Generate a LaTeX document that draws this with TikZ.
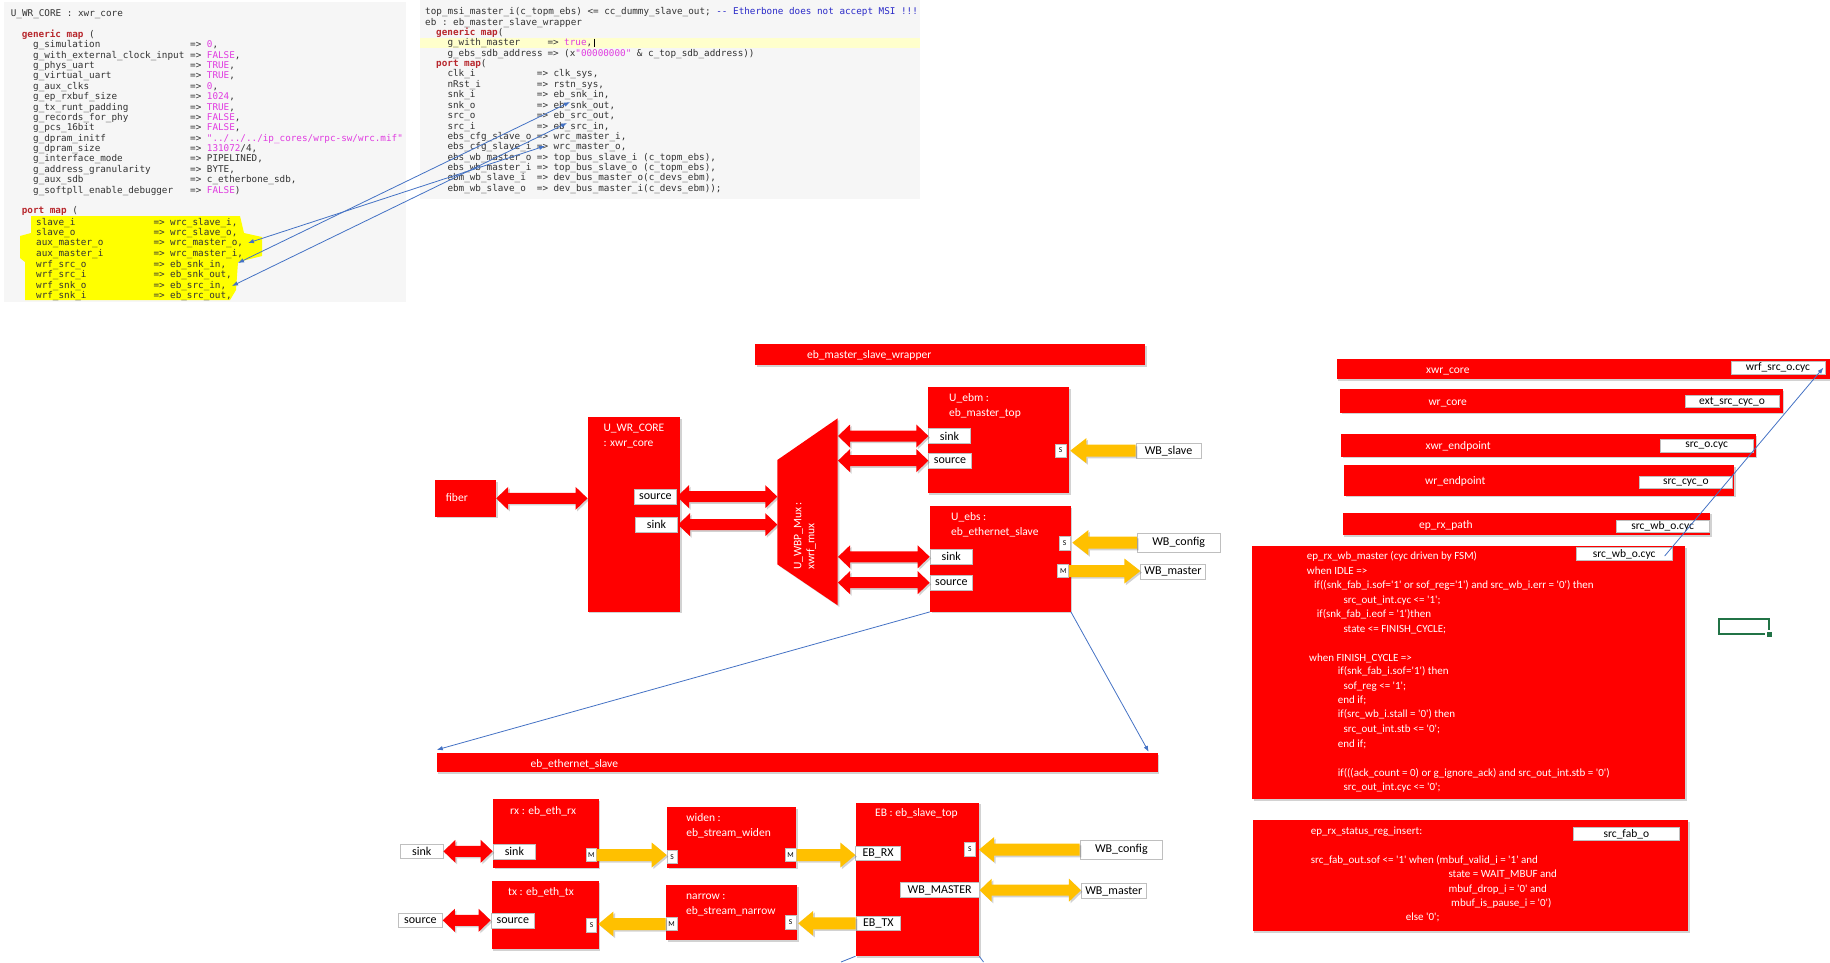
\documentclass[tikz,border=0pt]{standalone}
\usepackage{fontspec}
\setmainfont{Carlito}[Ligatures=TeXOff]
\setmonofont{DejaVu Sans Mono}
\usetikzlibrary{calc,fit,shadows,arrows.meta}

\definecolor{boxred}{HTML}{FF0000}
\definecolor{wbyellow}{HTML}{FFC000}
\definecolor{hlyellow}{HTML}{FFFF00}
\definecolor{lineyellow}{HTML}{FFFFCC}
\definecolor{panelgray}{HTML}{F6F6F6}
\definecolor{kwred}{HTML}{B8282E}
\definecolor{litmag}{HTML}{E03CE0}
\definecolor{cmtblue}{HTML}{2A2AC8}
\definecolor{codeink}{HTML}{333333}
\definecolor{linkblue}{HTML}{4472C4}
\definecolor{portgray}{HTML}{BFBFBF}
\definecolor{xlgreen}{HTML}{217346}

\newcommand\codefnt{\ttfamily\fontsize{9.3}{10}\selectfont}
\newcommand\titlefnt{\fontsize{11.5}{13}\selectfont}
\newcommand\portfnt{\fontsize{12}{14}\selectfont}
\newcommand\tagfnt{\fontsize{11.5}{13}\selectfont}
\newcommand\minifnt{\fontsize{7.5}{8}\selectfont}
\newcommand\listfnt{\fontsize{11}{13}\selectfont}
\newcommand\lit[1]{\textcolor{litmag}{#1}}

% plain box spanning two corners: style, name, corner, corner
\newcommand\bx[4]{\node[#1, fit={(#3) (#4)}] (#2) {};}
% labelled box: style, name, corner, corner, centred text
\newcommand\pbx[5]{%
  \node[#1, fit={(#3) (#4)}] (#2) {};
  \node[#1, draw=none, fill=none] (#2-l) at (#2.center) {#5};}
% one "name => value" line of a VHDL map
\newcommand\mapln[7]{%
  \node[code] (#1n) at (#3,#2) {#4};
  \node[code] (#1a) at (#5,#2) {=>};
  \node[code] (#1v) at (#6,#2) {#7};}
% horizontal block arrow with a head at both ends
\newcommand\dblarr[6]{%
  \fill[#1] let \p1=(#2), \p2=(#3), \n1={sign(\x2-\x1)} in
   (\x1,\y1) -- ({\x1+\n1*#6},{\y1+#5}) -- ({\x1+\n1*#6},{\y1+#4})
   -- ({\x2-\n1*#6},{\y1+#4}) -- ({\x2-\n1*#6},{\y1+#5}) -- (\x2,\y1)
   -- ({\x2-\n1*#6},{\y1-#5}) -- ({\x2-\n1*#6},{\y1-#4})
   -- ({\x1+\n1*#6},{\y1-#4}) -- ({\x1+\n1*#6},{\y1-#5}) -- cycle;}
% horizontal block arrow, tail to tip
\newcommand\onearr[6]{%
  \fill[#1] let \p1=(#2), \p2=(#3), \n1={sign(\x2-\x1)} in
   (\x1,{\y1+#4}) -- ({\x2-\n1*#6},{\y1+#4}) -- ({\x2-\n1*#6},{\y1+#5}) -- (\x2,\y1)
   -- ({\x2-\n1*#6},{\y1-#5}) -- ({\x2-\n1*#6},{\y1-#4}) -- (\x1,{\y1-#4}) -- cycle;}

\tikzset{
  softshadow/.style={drop shadow={shadow xshift=1.6pt, shadow yshift=-1.6pt, opacity=.25, fill=black!70}},
  code/.style={font=\codefnt, text=codeink, anchor=base west, yshift=-3pt, inner sep=0pt},
  kw/.style={code, font=\codefnt\bfseries, text=kwred},
  wtxt/.style={font=\titlefnt, text=white, anchor=base west, yshift=-4pt, inner sep=0pt},
  ltxt/.style={font=\listfnt, text=white, anchor=base west, yshift=-3.7pt, inner sep=0pt},
  redbox/.style={fill=boxred, softshadow, inner sep=0pt},
  portbox/.style={fill=white, draw=portgray, line width=.7pt, font=\portfnt, text=black, inner sep=0pt},
  tagbox/.style={fill=white, draw=portgray, line width=.7pt, font=\tagfnt, text=black, inner sep=0pt},
  minibox/.style={fill=white, draw=portgray, line width=.6pt, font=\minifnt, text=black, inner sep=0pt},
  redarrow/.style={fill=boxred, softshadow},
  yelarrow/.style={fill=wbyellow, softshadow},
  link/.style={draw=linkblue, line width=.8pt},
  linktip/.style={link, -{Latex[length=6pt,width=4.5pt]}},
  linkboth/.style={link, {Latex[length=6pt,width=4.5pt]}-{Latex[length=6pt,width=4.5pt]}},
}

\begin{document}
\begin{tikzpicture}[x=1pt,y=-1pt]
\useasboundingbox (0,0) rectangle (1830,962);

% ---------------- VHDL listings ----------------
\fill[panelgray] (4,2) rectangle (406,302);
\fill[panelgray] (420,0) rectangle (920,199);
\fill[lineyellow] (420,38) rectangle (920,47.7);
\fill[hlyellow] (31,216) -- (240,216) -- (244,233) -- (262,237) -- (262,256) -- (238,262)
  -- (236,290) -- (230,300) -- (25,300) -- (25,262) -- (20,258) -- (20,236) -- (31,233) -- cycle;

\node[code] (lw0) at (10.7,13.7) {U\_WR\_CORE : xwr\_core};
\node[kw] (lw1) at (21.7,34.3) {generic map \textcolor{codeink}{\mdseries(}};
\mapln{g1}{44.7}{33}{g\_simulation}{190}{206.7}{\lit{0},}
\mapln{g2}{55}{33}{g\_with\_external\_clock\_input}{190}{206.7}{\lit{FALSE},}
\mapln{g3}{65.3}{33}{g\_phys\_uart}{190}{206.7}{\lit{TRUE},}
\mapln{g4}{75.7}{33}{g\_virtual\_uart}{190}{206.7}{\lit{TRUE},}
\mapln{g5}{86}{33}{g\_aux\_clks}{190}{206.7}{\lit{0},}
\mapln{g6}{96.7}{33}{g\_ep\_rxbuf\_size}{190}{206.7}{\lit{1024},}
\mapln{g7}{107}{33}{g\_tx\_runt\_padding}{190}{206.7}{\lit{TRUE},}
\mapln{g8}{117.3}{33}{g\_records\_for\_phy}{190}{206.7}{\lit{FALSE},}
\mapln{g9}{127.7}{33}{g\_pcs\_16bit}{190}{206.7}{\lit{FALSE},}
\mapln{g10}{138}{33}{g\_dpram\_initf}{190}{206.7}{\lit{"../../../ip\_cores/wrpc-sw/wrc.mif"}}
\mapln{g11}{148.3}{33}{g\_dpram\_size}{190}{206.7}{\lit{131072}/4,}
\mapln{g12}{158.7}{33}{g\_interface\_mode}{190}{206.7}{PIPELINED,}
\mapln{g13}{169}{33}{g\_address\_granularity}{190}{206.7}{BYTE,}
\mapln{g14}{179.3}{33}{g\_aux\_sdb}{190}{206.7}{c\_etherbone\_sdb,}
\mapln{g15}{190}{33}{g\_softpll\_enable\_debugger}{190}{206.7}{\lit{FALSE})}
\node[kw] (lw2) at (21.7,210.7) {port map \textcolor{codeink}{\mdseries(}};
\mapln{p1}{222}{36}{slave\_i}{153.3}{170}{wrc\_slave\_i,}
\mapln{p2}{232.3}{36}{slave\_o}{153.3}{170}{wrc\_slave\_o,}
\mapln{p3}{242.7}{36}{aux\_master\_o}{153.3}{170}{wrc\_master\_o,}
\mapln{p4}{253.3}{36}{aux\_master\_i}{153.3}{170}{wrc\_master\_i,}
\mapln{p5}{264}{36}{wrf\_src\_o}{153.3}{170}{eb\_snk\_in,}
\mapln{p6}{274.3}{36}{wrf\_src\_i}{153.3}{170}{eb\_snk\_out,}
\mapln{p7}{285}{36}{wrf\_snk\_o}{153.3}{170}{eb\_src\_in,}
\mapln{p8}{295}{36}{wrf\_snk\_i}{153.3}{170}{eb\_src\_out,}

\node[code] (rw0) at (425,11.7) {top\_msi\_master\_i(c\_topm\_ebs) <= cc\_dummy\_slave\_out; \textcolor{cmtblue}{-{}- Etherbone does not accept MSI !!!}};
\node[code] (rw1) at (425,22) {eb : eb\_master\_slave\_wrapper};
\node[kw] (rw2) at (436,32.3) {generic map\textcolor{codeink}{\mdseries(}};
\mapln{r1}{42.7}{447.3}{g\_with\_master}{547.3}{564}{\lit{true},}
\draw[black, line width=.6pt] (594.3,38.5) -- (594.3,47);
\mapln{r2}{53}{447.3}{g\_ebs\_sdb\_address}{547.3}{564}{(x\lit{"00000000"} \& c\_top\_sdb\_address))}
\node[kw] (rw3) at (436,63.3) {port map\textcolor{codeink}{\mdseries(}};
\mapln{s1}{73.7}{447.3}{clk\_i}{536.7}{553.4}{clk\_sys,}
\mapln{s2}{84}{447.3}{nRst\_i}{536.7}{553.4}{rstn\_sys,}
\mapln{s3}{94.7}{447.3}{snk\_i}{536.7}{553.4}{eb\_snk\_in,}
\mapln{s4}{105.3}{447.3}{snk\_o}{536.7}{553.4}{eb\_snk\_out,}
\mapln{s5}{115.7}{447.3}{src\_o}{536.7}{553.4}{eb\_src\_out,}
\mapln{s6}{126}{447.3}{src\_i}{536.7}{553.4}{eb\_src\_in,}
\mapln{s7}{136.3}{447.3}{ebs\_cfg\_slave\_o}{536.7}{553.4}{wrc\_master\_i,}
\mapln{s8}{146.7}{447.3}{ebs\_cfg\_slave\_i}{536.7}{553.4}{wrc\_master\_o,}
\mapln{s9}{157}{447.3}{ebs\_wb\_master\_o}{536.7}{553.4}{top\_bus\_slave\_i (c\_topm\_ebs),}
\mapln{s10}{167.3}{447.3}{ebs\_wb\_master\_i}{536.7}{553.4}{top\_bus\_slave\_o (c\_topm\_ebs),}
\mapln{s11}{177.7}{447.3}{ebm\_wb\_slave\_i}{536.7}{553.4}{dev\_bus\_master\_o(c\_devs\_ebm),}
\mapln{s12}{188}{447.3}{ebm\_wb\_slave\_o}{536.7}{553.4}{dev\_bus\_master\_i(c\_devs\_ebm));}

% signals shared by both port maps
\coordinate (ka1) at (238,263);  \coordinate (kb1) at (570,102);
\coordinate (ka2) at (232,286);  \coordinate (kb2) at (567,123);
\coordinate (ka3) at (248,243);  \coordinate (kb3) at (545,146);
\draw[linkboth] (ka1) -- (kb1);
\draw[linkboth] (ka2) -- (kb2);
\draw[linkboth] (ka3) -- (kb3);

% ---------------- top level ----------------
\bx{redbox}{wrapbar}{755,344}{1145,365}
\node[wtxt] (wrapbar-t) at (807,354.3) {eb\_master\_slave\_wrapper};

\bx{redbox}{fiber}{435,480}{496,516.7}
\node[wtxt] (fiber-t) at (445.7,497.7) {fiber};

\bx{redbox}{wrcore}{587.7,417.3}{680,611.7}
\node[wtxt] (wrcore-t1) at (603.3,427.3) {U\_WR\_CORE};
\node[wtxt] (wrcore-t2) at (603.3,442.3) {: xwr\_core};
\pbx{portbox}{wrsrc}{634,489.3}{676.7,504}{source}
\pbx{portbox}{wrsnk}{635.3,517.3}{677.7,532}{sink}

\fill[boxred, softshadow] (777.3,460) -- (837.7,418.3) -- (837.7,605.3) -- (777.3,564.3) -- cycle;
\coordinate (muxW) at (777.3,512);
\coordinate (muxE) at (838,512);
\node[font=\titlefnt, text=white, rotate=90, anchor=west, align=left, inner sep=0pt] (mux-t) at (805,570) {U\_WBP\_Mux :\\xwrf\_mux};

\bx{redbox}{ebm}{927.7,387.3}{1069,493}
\node[wtxt] (ebm-t1) at (949,397.7) {U\_ebm :};
\node[wtxt] (ebm-t2) at (949,412) {eb\_master\_top};
\pbx{portbox}{ebmsnk}{928.7,428.7}{970.3,443.3}{sink}
\pbx{portbox}{ebmsrc}{928.7,453}{971.3,468.3}{source}
\pbx{minibox}{ebms}{1055.3,444}{1066,457}{S}
\pbx{portbox}{wbslave}{1136,443.3}{1201,458}{WB\_slave}

\bx{redbox}{ebs}{930,506}{1070.7,611.7}
\node[wtxt] (ebs-t1) at (951,516) {U\_ebs :};
\node[wtxt] (ebs-t2) at (951,531) {eb\_ethernet\_slave};
\pbx{portbox}{ebssnk}{930,549.3}{972.3,564.3}{sink}
\pbx{portbox}{ebssrc}{930,575.3}{972.7,590}{source}
\pbx{minibox}{ebss}{1059.3,536.7}{1070,550}{S}
\pbx{minibox}{ebsm}{1057.7,564.7}{1068.7,577.3}{M}
\pbx{portbox}{wbcfga}{1137.3,533.3}{1220,552}{WB\_config}
\pbx{portbox}{wbmsta}{1140.7,564.3}{1205.3,579}{WB\_master}

\dblarr{redarrow}{fiber.east}{fiber.east -| wrcore.west}{5.5pt}{11.5pt}{12pt}
\dblarr{redarrow}{wrsrc.east}{wrsrc.east -| muxW}{5.5pt}{11.5pt}{12pt}
\dblarr{redarrow}{wrsnk.east}{wrsnk.east -| muxW}{5.5pt}{11.5pt}{12pt}
\dblarr{redarrow}{ebmsnk.west -| muxE}{ebmsnk.west}{5.5pt}{11.5pt}{12pt}
\dblarr{redarrow}{ebmsrc.west -| muxE}{ebmsrc.west}{5.5pt}{11.5pt}{12pt}
\dblarr{redarrow}{ebssnk.west -| muxE}{ebssnk.west}{5.5pt}{11.5pt}{12pt}
\dblarr{redarrow}{ebssrc.west -| muxE}{ebssrc.west}{5.5pt}{11.5pt}{12pt}
\onearr{yelarrow}{wbslave.west}{$(wbslave.west -| ebms.east)+(4,0)$}{6pt}{12.5pt}{16pt}
\onearr{yelarrow}{wbcfga.west}{$(wbcfga.west -| ebss.east)+(2,0)$}{6pt}{12.5pt}{16pt}
\onearr{yelarrow}{ebsm.east}{ebsm.east -| wbmsta.west}{6pt}{12.5pt}{16pt}

% ---------------- eb_ethernet_slave ----------------
\bx{redbox}{ethbar}{436.5,753}{1157.5,772}
\node[wtxt] (ethbar-t) at (530.5,763.3) {eb\_ethernet\_slave};
\draw[linktip] (ebs.south west) -- ($(ethbar.north west)+(0.5,-3)$);
\draw[linktip] (ebs.south east) -- ($(ethbar.north east)+(-9,-1)$);

\bx{redbox}{rx}{493,799.3}{598.5,867.7}
\node[wtxt] (rx-t) at (510,810) {rx : eb\_eth\_rx};
\pbx{portbox}{rxsnk}{493,844.3}{535.8,859}{sink}
\pbx{minibox}{rxm}{586.3,848.3}{596.2,861.7}{M}
\pbx{portbox}{extsnk}{400.3,844.3}{443.1,858.3}{sink}

\bx{redbox}{tx}{491.7,881}{598.5,949}
\node[wtxt] (tx-t) at (508,891.7) {tx : eb\_eth\_tx};
\pbx{portbox}{txsrc}{491,913}{534.6,928.3}{source}
\pbx{minibox}{txs}{586.7,918.3}{596.6,932.7}{S}
\pbx{portbox}{extsrc}{398.4,913.3}{442.4,927.3}{source}

\bx{redbox}{widen}{667,807.3}{796.4,867.7}
\node[wtxt] (widen-t1) at (686.2,817.3) {widen :};
\node[wtxt] (widen-t2) at (686.2,832.3) {eb\_stream\_widen};
\pbx{minibox}{wds}{667,850}{677.4,863.3}{S}
\pbx{minibox}{wdm}{784.9,848.3}{796.4,861.7}{M}

\bx{redbox}{narrow}{665.9,885}{797.1,940}
\node[wtxt] (narrow-t1) at (686,895) {narrow :};
\node[wtxt] (narrow-t2) at (686,910) {eb\_stream\_narrow};
\pbx{minibox}{nrm}{665.9,917.3}{677.4,930.7}{M}
\pbx{minibox}{nrs}{784.9,915.7}{796.4,929}{S}

\bx{redbox}{eb}{855.7,802.7}{979,956}
\node[wtxt] (eb-t) at (875,812.7) {EB : eb\_slave\_top};
\pbx{portbox}{ebrx}{855.7,846}{900.5,860.7}{EB\_RX}
\pbx{portbox}{ebtx}{856,916}{900.7,930.7}{EB\_TX}
\pbx{portbox}{ebwbm}{900,882.7}{979.3,897.7}{WB\_MASTER}
\pbx{minibox}{ebsp}{964,842.3}{975.7,856.7}{S}
\pbx{portbox}{wbcfgb}{1080,840}{1162.7,859.3}{WB\_config}
\pbx{portbox}{wbmstb}{1081.3,883.7}{1146.3,898.3}{WB\_master}

\dblarr{redarrow}{extsnk.east}{extsnk.east -| rxsnk.west}{5.5pt}{11.5pt}{12pt}
\dblarr{redarrow}{extsrc.east}{extsrc.east -| txsrc.west}{5.5pt}{11.5pt}{12pt}
\onearr{yelarrow}{rxm.east}{rxm.east -| wds.west}{6pt}{12.5pt}{15pt}
\onearr{yelarrow}{wdm.east}{wdm.east -| ebrx.west}{6pt}{12.5pt}{15pt}
\onearr{yelarrow}{ebtx.west}{$(ebtx.west -| nrs.east)+(1.5,0)$}{6pt}{12.5pt}{15pt}
\onearr{yelarrow}{nrm.west}{$(nrm.west -| txs.east)+(1.5,0)$}{6pt}{12.5pt}{15pt}
\onearr{yelarrow}{wbcfgb.west}{$(wbcfgb.west -| ebsp.east)+(3,0)$}{6pt}{12.5pt}{15pt}
\dblarr{yelarrow}{ebwbm.east}{ebwbm.east -| wbmstb.west}{5.5pt}{11.5pt}{12pt}

\coordinate (offL) at (841,962);
\coordinate (offR) at (983.5,962);
\draw[link] (eb.south west) -- (offL);
\draw[link] (eb.south east) -- (offR);

% ---------------- cyc signal through the hierarchy ----------------
\bx{redbox}{hxwrcore}{1336.7,359}{1834,379}
\node[wtxt] (hxwrcore-t) at (1426,369.3) {xwr\_core};
\pbx{tagbox}{wrfsrc}{1731,361}{1825,374.3}{wrf\_src\_o.cyc}

\bx{redbox}{hwrcore}{1340,389}{1782.7,412.7}
\node[wtxt] (hwrcore-t) at (1428.3,401.7) {wr\_core};
\pbx{tagbox}{extcyc}{1685,395.3}{1779,407.7}{ext\_src\_cyc\_o}

\bx{redbox}{hxwrep}{1341,434}{1755.7,456.7}
\node[wtxt] (hxwrep-t) at (1425.3,445.3) {xwr\_endpoint};
\pbx{tagbox}{srcocyc}{1660,439}{1753.3,452.3}{src\_o.cyc}

\bx{redbox}{hwrep}{1344,465}{1734,495.7}
\node[wtxt] (hwrep-t) at (1425,480) {wr\_endpoint};
\pbx{tagbox}{srccyco}{1639,476}{1732.7,488.7}{src\_cyc\_o}

\bx{redbox}{hrxpath}{1342.7,512.7}{1710,535}
\node[wtxt] (hrxpath-t) at (1419,524) {ep\_rx\_path};
\pbx{tagbox}{srcwba}{1616,520}{1709.3,532.7}{src\_wb\_o.cyc}

\bx{redbox}{hrxwbm}{1252,546}{1685,799}
\pbx{tagbox}{srcwbb}{1576,547.3}{1672.3,560.7}{src\_wb\_o.cyc}
\node[ltxt] (e1) at (1306.7,556) {ep\_rx\_wb\_master (cyc driven by FSM)};
\node[ltxt] (e2) at (1306.7,571) {when IDLE =>};
\node[ltxt] (e3) at (1314,585) {if((snk\_fab\_i.sof='1' or sof\_reg='1') and src\_wb\_i.err = '0') then};
\node[ltxt] (e4) at (1343.3,599.3) {src\_out\_int.cyc <= '1';};
\node[ltxt] (e5) at (1316.7,614) {if(snk\_fab\_i.eof = '1')then};
\node[ltxt] (e6) at (1343.3,628.3) {state <= FINISH\_CYCLE;};
\node[ltxt] (e7) at (1309,657.3) {when FINISH\_CYCLE =>};
\node[ltxt] (e8) at (1337.7,671) {if(snk\_fab\_i.sof='1') then};
\node[ltxt] (e9) at (1343.3,685.7) {sof\_reg <= '1';};
\node[ltxt] (e10) at (1337.7,700) {end if;};
\node[ltxt] (e11) at (1337.7,714) {if(src\_wb\_i.stall = '0') then};
\node[ltxt] (e12) at (1343.3,729) {src\_out\_int.stb <= '0';};
\node[ltxt] (e13) at (1337.7,743.3) {end if;};
\node[ltxt] (e14) at (1337.7,772.3) {if(((ack\_count = 0) or g\_ignore\_ack) and src\_out\_int.stb = '0')};
\node[ltxt] (e15) at (1343.3,786.7) {src\_out\_int.cyc <= '0';};

\draw[linktip] ($(srcwbb.east)+(-8,2)$) -- ($(wrfsrc.east)+(-2,0)$);

\bx{redbox}{hstatus}{1252.7,820}{1688.3,931}
\pbx{tagbox}{srcfab}{1573.3,827.3}{1679.3,840.7}{src\_fab\_o}
\node[ltxt] (q1) at (1310.7,830.7) {ep\_rx\_status\_reg\_insert:};
\node[ltxt] (q2) at (1310.7,859.3) {src\_fab\_out.sof <= '1' when (mbuf\_valid\_i = '1' and};
\node[ltxt] (q3) at (1448.3,873.3) {state = WAIT\_MBUF and};
\node[ltxt] (q4) at (1448.3,888.3) {mbuf\_drop\_i = '0' and};
\node[ltxt] (q5) at (1451,902.3) {mbuf\_is\_pause\_i = '0')};
\node[ltxt] (q6) at (1405.7,916.7) {else '0';};

% selected spreadsheet cell
\draw[xlgreen, line width=2pt] (1718.7,618.7) rectangle (1769.3,634);
\fill[white] (1765.2,630.2) rectangle (1773.5,638.5);
\fill[xlgreen] (1766.7,631.7) rectangle (1772,637);
\end{tikzpicture}
\end{document}
